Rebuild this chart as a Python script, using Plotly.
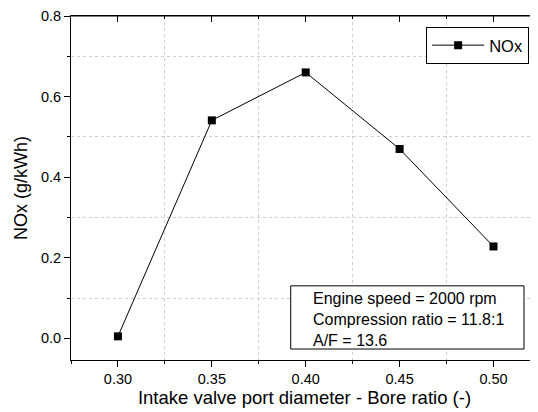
import plotly.graph_objects as go

ratio = [0.30, 0.35, 0.40, 0.45, 0.50]
nox = [0.005, 0.541, 0.660, 0.470, 0.228]
info_lines = ["Engine speed = 2000 rpm", "Compression ratio = 11.8:1", "A/F = 13.6"]

FONT = "Arial, Liberation Sans, sans-serif"
xr = [0.275, 0.5237]
yr = [-0.0537, 0.8]

fig = go.Figure()
fig.add_trace(go.Scatter(
    x=ratio, y=nox, mode="lines+markers", name="NOx",
    line=dict(color="black", width=1),
    marker=dict(symbol="square", size=8, color="black"),
))
fig.add_trace(go.Scatter(x=[xr[0]], y=[yr[0]], xaxis="x2", yaxis="y2",
                         mode="markers", marker=dict(opacity=0),
                         showlegend=False, hoverinfo="skip"))

common_grid = dict(showgrid=True, gridcolor="#cfcfcf", griddash="dot", gridwidth=1)

fig.update_layout(
    width=530, height=404,
    margin=dict(l=63, r=0, t=8, b=52, autoexpand=False),
    paper_bgcolor="white", plot_bgcolor="white",
    font=dict(family=FONT, color="black", size=14),
    xaxis=dict(
        range=xr, tick0=0.30, dtick=0.05, tickformat=".2f", automargin=False,
        showline=True, mirror=True, linecolor="black", linewidth=1,
        ticks="outside", ticklen=6, tickcolor="black",
        showgrid=False, zeroline=False,
        minor=dict(dtick=0.025, tick0=0.275, ticks="outside", ticklen=3, tickcolor="black", **common_grid),
        title=dict(text="Intake valve port diameter - Bore ratio (-)", font=dict(size=18.5), standoff=4),
        tickfont=dict(size=14.5), ticklabeloverflow="allow",
    ),
    yaxis=dict(
        range=yr, tick0=0, dtick=0.2, tickformat=".1f", automargin=False,
        showline=True, linecolor="black", linewidth=1,
        ticks="outside", ticklen=6, tickcolor="black",
        showgrid=False, zeroline=False,
        minor=dict(dtick=0.1, tick0=0, ticks="outside", ticklen=3, tickcolor="black", **common_grid),
        title=dict(text="NOx (g/kWh)", font=dict(size=18), standoff=8),
        tickfont=dict(size=14.5), ticklabeloverflow="allow",
    ),
    xaxis2=dict(
        range=xr, overlaying="x", side="top", tick0=0.30, dtick=0.05, automargin=False,
        showline=True, linecolor="black", linewidth=1,
        ticks="inside", ticklen=6, tickcolor="black", showticklabels=False,
        showgrid=False, zeroline=False,
        minor=dict(dtick=0.025, tick0=0.275, ticks="inside", ticklen=3, tickcolor="black", showgrid=False),
    ),
    yaxis2=dict(
        range=yr, overlaying="y", side="right", tick0=0, dtick=0.2, automargin=False,
        showline=False,
        ticks="inside", ticklen=6, tickcolor="black", showticklabels=False,
        showgrid=False, zeroline=False,
        minor=dict(dtick=0.1, tick0=0, ticks="inside", ticklen=3, tickcolor="black", showgrid=False),
    ),
    legend=dict(
        x=0.981, y=0.9145, xanchor="right", yanchor="middle",
        bordercolor="black", borderwidth=1, bgcolor="white",
        font=dict(size=16.5), itemwidth=52,
    ),
    showlegend=True,
    modebar=dict(bgcolor="rgba(0,0,0,0)"),
)

# plot frame top edge, in data coordinates of the y axis
fig.add_shape(type="line", xref="paper", yref="y", x0=0, x1=1, y0=yr[1], y1=yr[1],
              line=dict(color="black", width=1.2), layer="above")

fig.add_shape(type="rect", xref="paper", yref="paper",
              x0=0.4705, x1=0.970, y0=0.0319, y1=0.2156,
              line=dict(color="black", width=1), fillcolor="white", layer="above")
fig.add_annotation(xref="paper", yref="paper", x=0.514, y=0.118,
                   xanchor="left", yanchor="middle", align="left",
                   showarrow=False, text="<br>".join(info_lines),
                   font=dict(size=16, family=FONT, color="black"))

fig.write_html("out.html", config={"displayModeBar": False})
